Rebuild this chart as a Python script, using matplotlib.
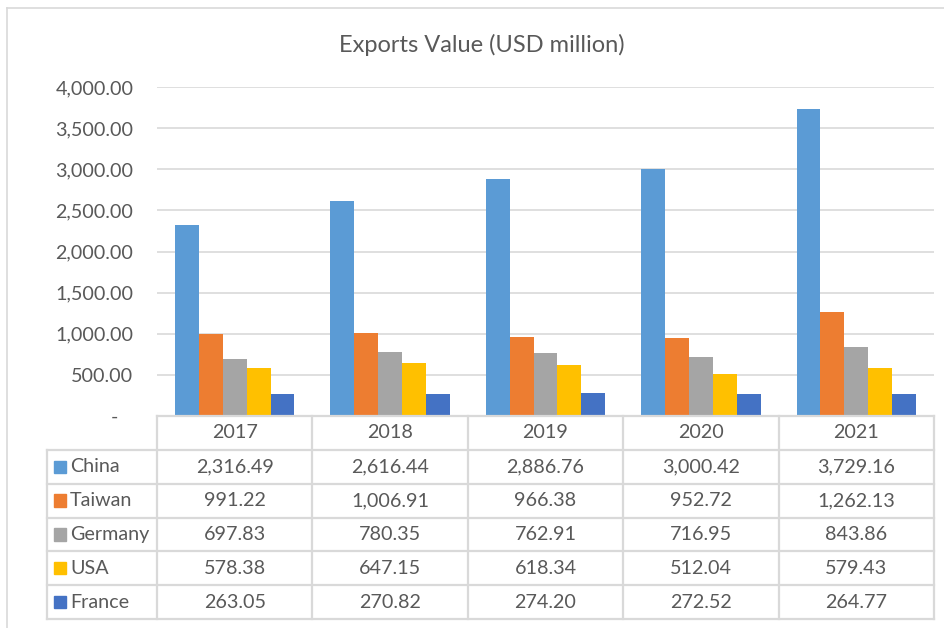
import numpy as np
import matplotlib
matplotlib.use("Agg")
import matplotlib.pyplot as plt
from matplotlib.patches import Rectangle
from matplotlib.ticker import FuncFormatter

# ── Data ──────────────────────────────────────────────────────────────────────

years     = ["2017", "2018", "2019", "2020", "2021"]
countries = ["China", "Taiwan", "Germany", "USA", "France"]

china   = [2316.49, 2616.44, 2886.76, 3000.42, 3729.16]
taiwan  = [991.22, 1006.91, 966.38, 952.72, 1262.13]
germany = [697.83, 780.35, 762.91, 716.95, 843.86]
usa     = [578.38, 647.15, 618.34, 512.04, 579.43]
france  = [263.05, 270.82, 274.20, 272.52, 264.77]

series = [china, taiwan, germany, usa, france]
colors = ["#5B9BD5", "#ED7D31", "#A5A5A5", "#FFC000", "#4472C4"]

TEXT = "#595959"
GRID = "#D9D9D9"
FONT = "Lato"
FS   = 14.2

# ── Figure ────────────────────────────────────────────────────────────────────

W, H = 944, 628
fig = plt.figure(figsize=(W / 100, H / 100), dpi=100)
fig.patch.set_facecolor("white")

def frac(x0, y0, x1, y1):
    # pixel box (top-left origin) -> figure fraction rect
    return [x0 / W, 1 - y1 / H, (x1 - x0) / W, (y1 - y0) / H]

# outer chart border (top + left visible)
fig.add_artist(plt.Line2D([7 / W, 1], [1 - 7.5 / H] * 2, color=GRID, lw=1.2))
fig.add_artist(plt.Line2D([7 / W] * 2, [0, 1 - 7.5 / H], color=GRID, lw=1.2))

PX0, PX1 = 157, 934
ax = fig.add_axes(frac(PX0, 87, PX1, 416))

n = len(series)
x = np.arange(len(years))
bw = 1 / (n + 1.5)
for i, (vals, c) in enumerate(zip(series, colors)):
    ax.bar(x + (i - (n - 1) / 2) * bw, vals, width=bw, color=c, zorder=3)

ax.set_xlim(-0.5, len(years) - 0.5)
ax.set_ylim(0, 4000)
ax.set_yticks(np.arange(0, 4001, 500))
ax.yaxis.set_major_formatter(
    FuncFormatter(lambda v, _: "-   " if v == 0 else f"{v:,.2f}"))
ax.tick_params(axis="y", length=0, pad=17, labelsize=FS, labelcolor=TEXT)
for lab in ax.get_yticklabels():
    lab.set_fontfamily(FONT)
ax.set_xticks([])
ax.grid(axis="y", color=GRID, lw=1.2, zorder=0)
for s in ax.spines.values():
    s.set_visible(False)

fig.text(482 / W, 1 - 45 / H, "Exports Value (USD million)", ha="center",
         va="center", fontsize=17, color=TEXT, family=FONT)

# ── Data table ────────────────────────────────────────────────────────────────

TX0 = 47
unit = (PX1 - PX0) / len(years)
tax = fig.add_axes(frac(TX0, 416, PX1, 619))
tax.set_xlim(-0.5 - (PX0 - TX0) / unit, len(years) - 0.5)
tax.set_ylim(len(countries) + 1, 0)
tax.axis("off")
left, right = tax.get_xlim()

lk = dict(color=GRID, lw=1.6, solid_capstyle="projecting", clip_on=False)
# horizontal lines
tax.plot([-0.5, right], [0, 0], **lk)
for r in range(1, len(countries) + 2):
    tax.plot([left, right], [r, r], **lk)
# vertical lines
tax.plot([left, left], [1, len(countries) + 1], **lk)
for cidx in range(len(years) + 1):
    xc = cidx - 0.5
    tax.plot([xc, xc], [0, len(countries) + 1], **lk)

tk = dict(ha="center", va="center", fontsize=FS, color=TEXT, family=FONT)
for j, yr in enumerate(years):
    tax.text(j, 0.5, yr, **tk)
for i, (name, vals, c) in enumerate(zip(countries, series, colors)):
    yc = i + 1.5
    tax.add_patch(Rectangle((left + 7 / unit, yc - 0.18), 12 / unit, 0.36,
                            color=c, clip_on=False))
    tax.text(left + 23 / unit, yc, name, ha="left", va="center",
             fontsize=FS, color=TEXT, family=FONT)
    for j, v in enumerate(vals):
        tax.text(j, yc, f"{v:,.2f}", **tk)

plt.savefig("out.png", dpi=100, facecolor="white")
